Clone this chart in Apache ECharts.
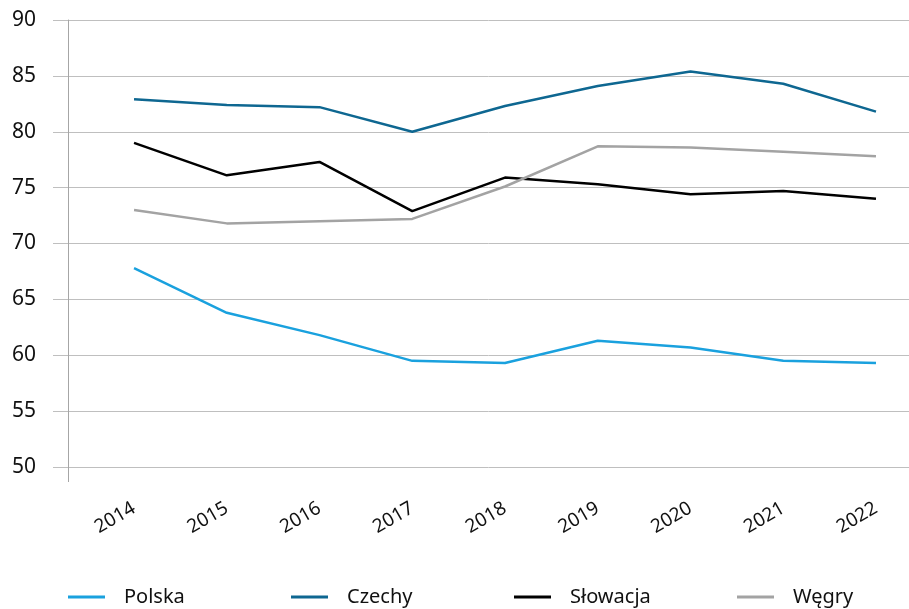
<!DOCTYPE html>
<html>
<head>
<meta charset="utf-8">
<script src="https://cdn.jsdelivr.net/npm/echarts@6/dist/echarts.min.js"></script>
<style>
  html, body { margin: 0; padding: 0; background: #fff; }
  #chart { width: 909px; height: 609px; }
</style>
</head>
<body>
<div id="chart"></div>
<script>
const years = [2014, 2015, 2016, 2017, 2018, 2019, 2020, 2021, 2022]
const polska = [67.8, 63.8, 61.8, 59.5, 59.3, 61.3, 60.7, 59.5, 59.3]
const czechy = [82.9, 82.4, 82.2, 80.0, 82.3, 84.1, 85.4, 84.3, 81.8]
const slowacja = [79.0, 76.1, 77.3, 72.9, 75.9, 75.3, 74.4, 74.7, 74.0]
const wegry = [73.0, 71.8, 72.0, 72.2, 75.1, 78.7, 78.6, 78.2, 77.8]
const yTicks = [50, 55, 60, 65, 70, 75, 80, 85, 90]
const seriesNames = ['Polska', 'Czechy', 'Słowacja', 'Węgry']
const colors = ['#1aa1de', '#0e6791', '#000000', '#a3a3a3']

const font = 'Noto Sans'
const xMin = 2013.288
const xMax = 2022.356

const chart = echarts.init(document.getElementById('chart'))

function mk(name, data, color) {
  return {
    name,
    type: 'line',
    data: years.map((y, i) => [y, data[i]]),
    symbol: 'none',
    lineStyle: { width: 2.5, color },
    itemStyle: { color }
  }
}

// one legend per series so the items sit on an even spacing
const legends = seriesNames.map((n, i) => ({
  left: 68 + i * 223,
  bottom: 2,
  padding: 0,
  itemWidth: 37,
  itemHeight: 3,
  icon: 'rect',
  textStyle: {
    color: '#111',
    fontFamily: font,
    fontSize: 20,
    padding: [0, 0, 0, 14]
  },
  data: [n]
}))

chart.setOption({
  animation: false,
  backgroundColor: '#fff',
  grid: { left: 68, right: 0, top: 20, bottom: 142, containLabel: false },
  xAxis: {
    type: 'value',
    min: xMin,
    max: xMax,
    axisLine: { show: false },
    splitLine: { show: false },
    axisTick: {
      show: true,
      customValues: [xMin],
      length: 15,
      lineStyle: { color: '#a6a6a6', width: 1 }
    },
    axisLabel: {
      customValues: years,
      rotate: 30,
      margin: 40,
      color: '#111',
      fontFamily: font,
      fontSize: 19,
      formatter: v => String(Math.round(v))
    }
  },
  yAxis: {
    type: 'value',
    min: 50,
    max: 90,
    interval: 5,
    axisLine: { show: true, lineStyle: { color: '#a6a6a6', width: 1 } },
    axisTick: { show: true, length: 15, lineStyle: { color: '#bfbfbf', width: 1 } },
    splitLine: { lineStyle: { color: '#bfbfbf', width: 1 } },
    axisLabel: {
      margin: 32,
      color: '#111',
      fontFamily: font,
      fontSize: 21,
      formatter: v => yTicks.includes(v) ? String(v) : ''
    }
  },
  legend: legends,
  series: seriesNames.map((n, i) => mk(n, [polska, czechy, slowacja, wegry][i], colors[i]))
})
</script>
</body>
</html>
